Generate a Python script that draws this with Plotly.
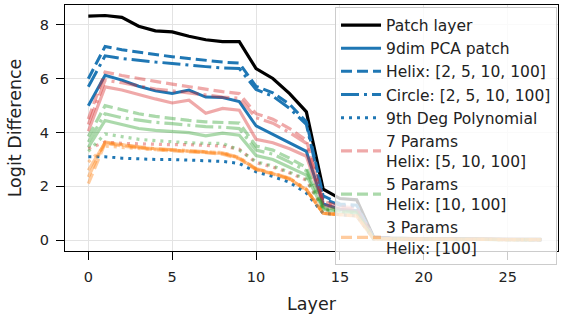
import plotly.graph_objects as go

layers = list(range(28))

patch_layer = [8.33, 8.35, 8.28, 7.95, 7.78, 7.74, 7.58, 7.45, 7.38, 7.38, 6.38, 6.01, 5.45, 4.77,
               1.90, 1.55, 1.50, 0.12, 0.08, 0.06, 0.05, 0.05, 0.04, 0.04, 0.04, 0.03, 0.03, 0.03]

# full (9-dim) group, blue
pca9 = [5.00, 6.13, 5.95, 5.72, 5.55, 5.45, 5.58, 5.32, 5.30, 5.15, 4.25, 3.95, 3.62, 3.30,
        1.35, 1.15, 1.10, 0.08, 0.06, 0.05, 0.04, 0.04, 0.03, 0.03, 0.03, 0.03, 0.02, 0.02]
helix9 = [6.00, 7.20, 7.08, 6.98, 6.90, 6.82, 6.75, 6.68, 6.62, 6.58, 5.72, 5.48, 5.05, 4.40,
          1.65, 1.35, 1.30, 0.10, 0.06, 0.05, 0.04, 0.04, 0.03, 0.03, 0.03, 0.03, 0.02, 0.02]
circle9 = [5.70, 6.85, 6.75, 6.68, 6.62, 6.57, 6.50, 6.45, 6.40, 6.38, 5.60, 5.35, 4.90, 4.30,
           1.55, 1.30, 1.25, 0.10, 0.06, 0.05, 0.04, 0.04, 0.03, 0.03, 0.03, 0.03, 0.02, 0.02]
poly9 = [3.10, 3.10, 3.05, 3.02, 3.00, 3.00, 2.98, 2.97, 2.93, 2.85, 2.54, 2.37, 2.15, 1.75,
         1.00, 0.95, 0.90, 0.05, 0.05, 0.04, 0.04, 0.03, 0.03, 0.03, 0.03, 0.02, 0.02, 0.02]

# 7 params group, red
pca7 = [4.05, 5.70, 5.58, 5.40, 5.25, 5.10, 5.20, 4.72, 4.90, 4.83, 3.75, 3.62, 3.40, 3.12,
        1.30, 1.15, 1.05, 0.08, 0.06, 0.05, 0.04, 0.04, 0.03, 0.03, 0.03, 0.03, 0.02, 0.02]
helix7 = [4.50, 6.25, 6.12, 6.00, 5.90, 5.80, 5.70, 5.60, 5.52, 5.45, 4.70, 4.50, 4.15, 3.72,
          1.45, 1.25, 1.20, 0.10, 0.06, 0.05, 0.04, 0.04, 0.03, 0.03, 0.03, 0.03, 0.02, 0.02]
circle7 = [4.30, 5.95, 5.85, 5.72, 5.62, 5.55, 5.47, 5.38, 5.32, 5.28, 4.55, 4.35, 4.00, 3.60,
           1.40, 1.20, 1.15, 0.10, 0.06, 0.05, 0.04, 0.04, 0.03, 0.03, 0.03, 0.03, 0.02, 0.02]
poly7 = [3.40, 3.65, 3.60, 3.58, 3.56, 3.55, 3.55, 3.52, 3.50, 3.38, 2.88, 2.72, 2.50, 2.23,
         1.15, 1.05, 1.00, 0.06, 0.05, 0.04, 0.04, 0.03, 0.03, 0.03, 0.03, 0.02, 0.02, 0.02]

# 5 params group, green
pca5 = [3.45, 4.45, 4.30, 4.15, 4.08, 4.03, 4.00, 3.88, 3.98, 3.90, 3.15, 3.00, 2.72, 2.42,
        1.15, 1.05, 1.00, 0.06, 0.05, 0.04, 0.04, 0.03, 0.03, 0.03, 0.03, 0.02, 0.02, 0.02]
helix5 = [3.85, 5.00, 4.85, 4.70, 4.60, 4.52, 4.45, 4.40, 4.38, 4.35, 3.50, 3.35, 3.05, 2.70,
          1.25, 1.10, 1.05, 0.07, 0.05, 0.04, 0.04, 0.03, 0.03, 0.03, 0.03, 0.02, 0.02, 0.02]
circle5 = [3.65, 4.70, 4.55, 4.45, 4.38, 4.33, 4.28, 4.22, 4.20, 4.15, 3.35, 3.20, 2.90, 2.58,
           1.20, 1.08, 1.02, 0.07, 0.05, 0.04, 0.04, 0.03, 0.03, 0.03, 0.03, 0.02, 0.02, 0.02]
poly5 = [3.30, 3.95, 3.85, 3.75, 3.70, 3.65, 3.62, 3.60, 3.60, 3.35, 2.92, 2.76, 2.53, 2.26,
         1.15, 1.05, 1.00, 0.06, 0.05, 0.04, 0.04, 0.03, 0.03, 0.03, 0.03, 0.02, 0.02, 0.02]

# 3 params group, orange
pca3 = [2.60, 3.62, 3.55, 3.45, 3.40, 3.35, 3.32, 3.27, 3.22, 3.05, 2.64, 2.48, 2.28, 1.88,
        1.00, 0.95, 0.90, 0.05, 0.05, 0.04, 0.04, 0.03, 0.03, 0.03, 0.03, 0.02, 0.02, 0.02]
helix3 = [2.10, 3.60, 3.50, 3.42, 3.36, 3.32, 3.29, 3.25, 3.20, 3.02, 2.62, 2.46, 2.26, 1.86,
          1.00, 0.95, 0.90, 0.05, 0.05, 0.04, 0.04, 0.03, 0.03, 0.03, 0.03, 0.02, 0.02, 0.02]
circle3 = [2.35, 3.65, 3.55, 3.47, 3.40, 3.37, 3.34, 3.29, 3.25, 3.08, 2.66, 2.50, 2.30, 1.90,
           1.00, 0.95, 0.90, 0.05, 0.05, 0.04, 0.04, 0.03, 0.03, 0.03, 0.03, 0.02, 0.02, 0.02]
poly3 = [2.90, 3.50, 3.45, 3.40, 3.37, 3.34, 3.32, 3.29, 3.26, 3.06, 2.65, 2.49, 2.29, 1.89,
         1.00, 0.95, 0.90, 0.05, 0.05, 0.04, 0.04, 0.03, 0.03, 0.03, 0.03, 0.02, 0.02, 0.02]

FONT = "DejaVu Sans"
DASH = "11px,5px"
DOT = "3px,5px"
DASHDOT = "18px,5px,3px,5px"

fig = go.Figure()

def add(y, color, dash, name=None, width=3.0):
    fig.add_trace(go.Scatter(
        x=layers, y=y, mode="lines",
        line=dict(color=color, width=width, dash=dash),
        name=name if name else "", showlegend=name is not None,
        hoverinfo="skip"))

add(patch_layer, "black", "solid", "Patch layer", 3.2)
BLUE = "#1f77b4"
add(pca9, BLUE, "solid", "9dim PCA patch")
add(helix9, BLUE, DASH, "Helix: [2, 5, 10, 100]")
add(circle9, BLUE, DASHDOT, "Circle: [2, 5, 10, 100]")
add(poly9, BLUE, DOT, "9th Deg Polynomial")

groups = [
    ("rgba(214,39,40,0.4)", pca7, helix7, circle7, poly7, "7 Params<br>Helix: [5, 10, 100]"),
    ("rgba(44,160,44,0.4)", pca5, helix5, circle5, poly5, "5 Params<br>Helix: [10, 100]"),
    ("rgba(255,127,14,0.4)", pca3, helix3, circle3, poly3, "3 Params<br>Helix: [100]"),
]
for color, p, h, c, d, label in groups:
    add(p, color, "solid", None, 3.2)
    add(h, color, DASH, label, 3.2)
    add(c, color, DASHDOT, None, 3.2)
    add(d, color, DOT, None, 3.2)

axis_common = dict(
    showline=True, mirror=True, linecolor="black", linewidth=1.3,
    ticks="outside", ticklen=8, tickwidth=1.3, tickcolor="black",
    showgrid=True, gridcolor="#e3e3e3", gridwidth=1, zeroline=False,
    automargin=False,
    tickfont=dict(family=FONT, size=14.5, color="#222"),
    title_font=dict(family=FONT, size=17.5, color="#222"),
)

fig.update_layout(
    width=561, height=315,
    margin=dict(l=65, r=3, t=5, b=64),
    plot_bgcolor="white", paper_bgcolor="white",
    font=dict(family=FONT, color="#222"),
    xaxis=dict(range=[-1.39, 28.0], tickvals=[0, 5, 10, 15, 20, 25],
               ticklabelstandoff=4,
               title=dict(text="Layer", standoff=14), **axis_common),
    yaxis=dict(range=[-0.40, 8.74], tickvals=[0, 2, 4, 6, 8],
               ticklabelstandoff=4,
               title=dict(text="Logit Difference", standoff=13), **axis_common),
    legend=dict(x=0.998, xanchor="right", y=0.99, yanchor="top",
                bgcolor="rgba(255,255,255,0.8)", bordercolor="#cccccc", borderwidth=1,
                font=dict(family=FONT, size=15.5, color="#222"),
                tracegroupgap=0, itemwidth=40, maxheight=400),
)

fig.write_html("out.html", config={"displayModeBar": False},
               post_script="document.body.style.margin='0px';document.body.style.overflow='hidden';")
